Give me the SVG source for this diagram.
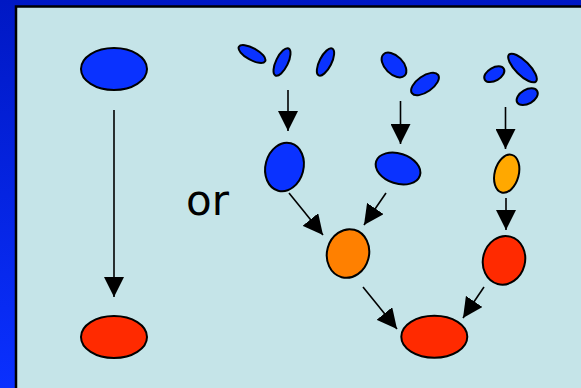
<svg xmlns="http://www.w3.org/2000/svg" width="581" height="388" viewBox="0 0 581 388">
  <defs>
    <linearGradient id="frameGrad" x1="0" y1="0" x2="0" y2="1">
      <stop offset="0" stop-color="#0018C4"/>
      <stop offset="1" stop-color="#0A30FF"/>
    </linearGradient>
    <marker id="arrowHead" markerUnits="userSpaceOnUse" markerWidth="20" markerHeight="20" refX="20" refY="10" orient="auto">
      <path d="M0,0 L20,10 L0,20 Z" fill="#000"/>
    </marker>
  </defs>
  <style>
    .cell { stroke: #000; stroke-width: 2; }
    .blue { fill: #0A32FF; }
    .orange { fill: #FF8000; }
    .gold { fill: #FFA800; }
    .red { fill: #FF2A00; }
    .link { stroke: #000; stroke-width: 1.6; fill: none; marker-end: url(#arrowHead); }
    .label { font-family: "DejaVu Sans", sans-serif; font-size: 42px; fill: #000; }
  </style>

  <!-- frame and panel -->
  <rect x="0" y="0" width="581" height="388" fill="url(#frameGrad)"/>
  <rect x="16" y="6.5" width="600" height="400" fill="#C5E4E8" stroke="#000" stroke-width="2.5"/>

  <!-- single path: one cell becomes one cell -->
  <g id="single-start">
    <ellipse class="cell blue" cx="114" cy="69" rx="33" ry="21"/>
  </g>
  <g id="single-end">
    <ellipse class="cell red" cx="114" cy="337" rx="33" ry="21"/>
  </g>

  <g id="or-label">
    <text class="label" x="186" y="215">or</text>
  </g>

  <!-- left branch: three fragments -->
  <g id="fragments-a">
    <ellipse class="cell blue" cx="0" cy="0" rx="15" ry="6" transform="translate(252,54) rotate(29)"/>
    <ellipse class="cell blue" cx="0" cy="0" rx="15" ry="6" transform="translate(282,62) rotate(-64)"/>
    <ellipse class="cell blue" cx="0" cy="0" rx="15" ry="6" transform="translate(325.5,62) rotate(-63)"/>
  </g>
  <g id="cell-a">
    <ellipse class="cell blue" cx="0" cy="0" rx="19" ry="24.5" transform="translate(284.5,167) rotate(15)"/>
  </g>

  <!-- middle branch: two fragments -->
  <g id="fragments-b">
    <ellipse class="cell blue" cx="0" cy="0" rx="15" ry="9" transform="translate(394,65) rotate(45)"/>
    <ellipse class="cell blue" cx="0" cy="0" rx="16" ry="8" transform="translate(425,84) rotate(-35)"/>
  </g>
  <g id="cell-b">
    <ellipse class="cell blue" cx="0" cy="0" rx="23" ry="15" transform="translate(398,168.5) rotate(18)"/>
  </g>

  <g id="merge-ab">
    <ellipse class="cell orange" cx="0" cy="0" rx="21" ry="24.5" transform="translate(348,253.5) rotate(15)"/>
  </g>

  <!-- right branch: three fragments -->
  <g id="fragments-c">
    <ellipse class="cell blue" cx="0" cy="0" rx="11" ry="6.5" transform="translate(494.3,74.2) rotate(-30)"/>
    <ellipse class="cell blue" cx="0" cy="0" rx="19" ry="7" transform="translate(522.5,68) rotate(45)"/>
    <ellipse class="cell blue" cx="0" cy="0" rx="11.5" ry="7" transform="translate(527.2,96.7) rotate(-30)"/>
  </g>
  <g id="cell-c">
    <ellipse class="cell gold" cx="0" cy="0" rx="12" ry="19.5" transform="translate(506.7,173.7) rotate(15)"/>
  </g>
  <g id="cell-c-grown">
    <ellipse class="cell red" cx="0" cy="0" rx="21" ry="24.5" transform="translate(504,260.3) rotate(15)"/>
  </g>

  <g id="final">
    <ellipse class="cell red" cx="434.3" cy="336.8" rx="33" ry="21"/>
  </g>

  <!-- connectors -->
  <g id="connectors">
    <line class="link" x1="114" y1="110" x2="114" y2="297"/>
    <line class="link" x1="288" y1="90" x2="288" y2="131"/>
    <line class="link" x1="400.5" y1="101" x2="400.5" y2="144"/>
    <line class="link" x1="505.5" y1="107" x2="505.5" y2="149"/>
    <line class="link" x1="506" y1="198" x2="506" y2="230"/>
    <line class="link" x1="289" y1="193" x2="323" y2="235"/>
    <line class="link" x1="386" y1="193" x2="364" y2="225"/>
    <line class="link" x1="363" y1="287" x2="397" y2="329"/>
    <line class="link" x1="484" y1="287" x2="463" y2="318"/>
  </g>
</svg>
